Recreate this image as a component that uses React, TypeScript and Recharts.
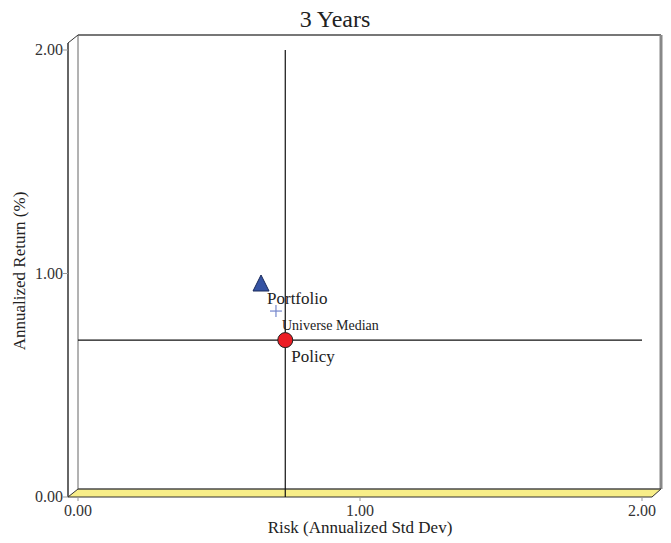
import React from 'react';
import { ScatterChart, Scatter, XAxis, YAxis, ReferenceLine, Customized } from 'recharts';

const xTicks = [0, 1, 2];
const yTicks = [0, 1, 2];

const portfolio = [{ x: 0.649, y: 0.953 }];
const universeMedian = [{ x: 0.702, y: 0.832 }];
const policy = [{ x: 0.735, y: 0.702 }];

const FONT = '"Liberation Serif", "Times New Roman", serif';

// plot box (px)
const LEFT = 78;
const RIGHT = 642;
const TOP = 50;
const BOTTOM = 497;

const Frame = () => (
  <g>
    {/* back wall */}
    <line x1={78} y1={35} x2={661} y2={35} stroke="#777" strokeWidth={2} />
    <line x1={661} y1={35} x2={661} y2={489} stroke="#888" strokeWidth={3} />
    <line x1={78} y1={35} x2={78} y2={489} stroke="#666" strokeWidth={1} />
    {/* left wall */}
    <line x1={68} y1={43} x2={78} y2={35} stroke="#333" strokeWidth={1} />
    <line x1={68} y1={43} x2={68} y2={497} stroke="#333" strokeWidth={1.5} />
    {/* floor */}
    <polygon points="78,489 661,489 652,497 68,497" fill="#f8ee88" stroke="#333" strokeWidth={1} />
    <line x1={78} y1={489} x2={661} y2={489} stroke="#555" strokeWidth={1} />
    {/* title and axis titles */}
    <text x={335} y={27} textAnchor="middle" fontFamily={FONT} fontSize={24} fill="#222">3 Years</text>
    <text x={360} y={533} textAnchor="middle" fontFamily={FONT} fontSize={17} fill="#222">Risk (Annualized Std Dev)</text>
    <text
      x={0}
      y={0}
      transform="translate(25,271) rotate(-90)"
      textAnchor="middle"
      fontFamily={FONT}
      fontSize={17}
      fill="#222"
    >
      Annualized Return (%)
    </text>
  </g>
);

const XTick = (props: any) => {
  const { x, payload } = props;
  return (
    <g>
      <line x1={x} y1={BOTTOM} x2={x} y2={BOTTOM + 4} stroke="#999" />
      <text x={x} y={BOTTOM + 19} textAnchor="middle" fontFamily={FONT} fontSize={16} fill="#333">
        {Number(payload.value).toFixed(2)}
      </text>
    </g>
  );
};

const YTick = (props: any) => {
  const { y, payload } = props;
  return (
    <g>
      <line x1={63} y1={y} x2={68} y2={y} stroke="#999" />
      <text x={63} y={y + 5} textAnchor="end" fontFamily={FONT} fontSize={16} fill="#333">
        {Number(payload.value).toFixed(2)}
      </text>
    </g>
  );
};

const TriangleShape = (props: any) => {
  const { cx, cy } = props;
  return (
    <g>
      <polygon
        points={`${cx},${cy - 9} ${cx + 8},${cy + 7} ${cx - 8},${cy + 7}`}
        fill="#3553a3"
        stroke="#1a2a5a"
        strokeWidth={1}
      />
      <text x={cx + 6} y={cy + 20} fontFamily={FONT} fontSize={17} fill="#222">Portfolio</text>
    </g>
  );
};

const PlusShape = (props: any) => {
  const { cx, cy } = props;
  return (
    <g>
      <line x1={cx - 6} y1={cy} x2={cx + 6} y2={cy} stroke="#7486cc" strokeWidth={1.2} />
      <line x1={cx} y1={cy - 6} x2={cx} y2={cy + 6} stroke="#7486cc" strokeWidth={1.2} />
      <text x={cx + 6} y={cy + 19} fontFamily={FONT} fontSize={14} fill="#222">Universe Median</text>
    </g>
  );
};

const CircleShape = (props: any) => {
  const { cx, cy } = props;
  return (
    <g>
      <circle cx={cx} cy={cy} r={7.5} fill="#ec1c24" stroke="#222" strokeWidth={1} />
      <text x={cx + 6} y={cy + 22} fontFamily={FONT} fontSize={17} fill="#222">Policy</text>
    </g>
  );
};

export default function App() {
  return (
    <div style={{ position: 'absolute', left: 0, top: 0 }}>
      <ScatterChart
        width={671}
        height={543}
        margin={{ top: TOP, right: 671 - RIGHT, bottom: 543 - BOTTOM - 30, left: LEFT - 60 }}
      >
        <Customized component={<Frame />} />
        <XAxis
          type="number"
          dataKey="x"
          domain={[0, 2]}
          ticks={xTicks}
          axisLine={false}
          tickLine={false}
          tick={<XTick />}
          height={30}
        />
        <YAxis
          type="number"
          dataKey="y"
          domain={[0, 2]}
          ticks={yTicks}
          axisLine={false}
          tickLine={false}
          tick={<YTick />}
          width={60}
        />
        <ReferenceLine x={policy[0].x} stroke="#111" strokeWidth={1.2} />
        <ReferenceLine y={policy[0].y} stroke="#111" strokeWidth={1.2} />
        <Scatter data={portfolio} shape={<TriangleShape />} isAnimationActive={false} />
        <Scatter data={universeMedian} shape={<PlusShape />} isAnimationActive={false} />
        <Scatter data={policy} shape={<CircleShape />} isAnimationActive={false} />
      </ScatterChart>
    </div>
  );
}
